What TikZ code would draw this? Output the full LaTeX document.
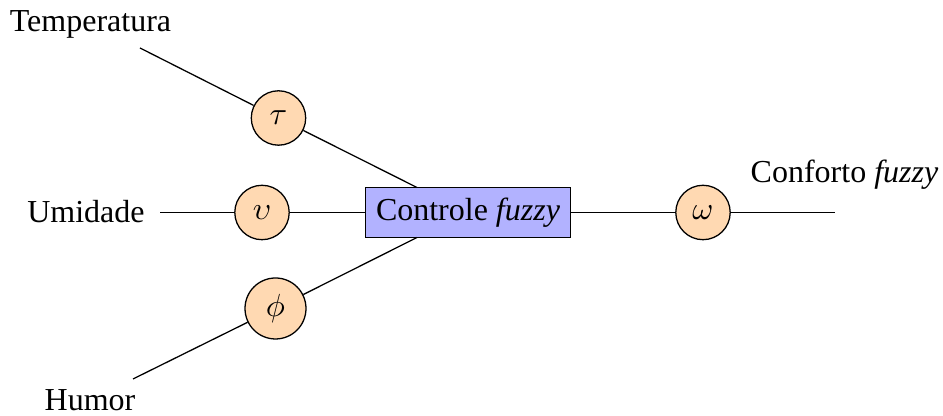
\documentclass[tikz,border=0pt]{standalone}
\usepackage{fontspec}
\setmainfont{Liberation Serif}
\begin{document}
\begin{tikzpicture}[x=0.3125pt,y=-0.3125pt,
  every path/.style={line width=0.4pt},
  var/.style={circle,draw,fill=orange!30,inner sep=3pt,minimum size=17pt},
  ctrl/.style={rectangle,draw,fill=blue!30,minimum width=64pt,minimum height=15.5pt,inner sep=0pt},
  lbl/.style={anchor=base,inner sep=0pt,font=\fontsize{10}{12}\selectfont}]
\useasboundingbox (0,0) rectangle (943,416);
\node[ctrl,font=\fontsize{10}{12}\selectfont] (box) at (468,212.5) {Controle \textit{fuzzy}};
\node[var] (tau) at (278.5,118) {$\tau$};
\node[var] (ups) at (262,212.5) {$\upsilon$};
\node[var] (phi) at (275.5,308.5) {$\phi$};
\node[var] (ome) at (703,212.5) {$\omega$};
\node[lbl] (tT) at (90.5,31.5) {Temperatura};
\node[lbl] (tU) at (86,222.5) {Umidade};
\node[lbl] (tH) at (90,411) {Humor};
\node[lbl] (tC) at (844.5,183) {Conforto \textit{fuzzy}};
\coordinate (sT) at (140,48);
\coordinate (sU) at (160,212.5);
\coordinate (sH) at (133,379);
\coordinate (eC) at (835,212.5);
\coordinate (bT) at (417,187.5);
\coordinate (bH) at (417,237.5);
\draw (sT) -- (tau) -- (bT);
\draw (sU) -- (ups) -- (box);
\draw (sH) -- (phi) -- (bH);
\draw (box) -- (ome) -- (eC);
\end{tikzpicture}
\end{document}
